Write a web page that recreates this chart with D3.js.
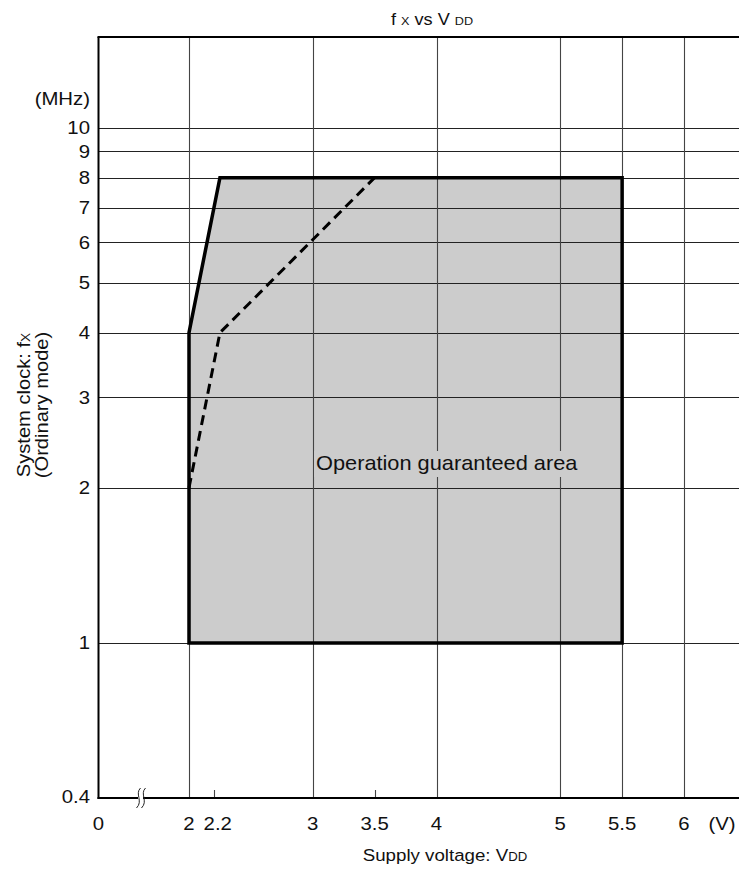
<!DOCTYPE html>
<html><head><meta charset="utf-8">
<script src="https://cdn.jsdelivr.net/npm/d3@7"></script>
<style>
html,body{margin:0;padding:0;background:#fff;}
svg{display:block;}
text{font-family:"Liberation Sans",Arial,Helvetica,sans-serif;fill:#111;}
</style></head>
<body>
<svg id="c" width="739" height="880"></svg>
<script>
// ---- data ----
const xTickValues = [2, 2.2, 3, 3.5, 4, 5, 5.5, 6];
const xTickLabels = ["2", "2.2", "3", "3.5", "4", "5", "5.5", "6"];
const xGridValues = [2, 3, 4, 5, 5.5, 6];
const xShortTickValues = [2.2, 3.5];
const yTickValues = [1, 2, 3, 4, 5, 6, 7, 8, 9, 10];
const yBreakLabel = "0.4";
const xBreakLabel = "0";
// operation guaranteed area (V, MHz)
const areaV = [2, 2, 2.25, 5.5, 5.5];
const areaF = [1, 4, 8, 8, 1];
// dashed boundary (V, MHz)
const dashV = [2, 2.25, 3.5];
const dashF = [2, 4, 8];

const svg = d3.select("#c");
const pL = 98.5, pR = 745, pT = 37, pB = 798;
const x = d3.scaleLinear().domain([2, 6]).range([189, 684]);
const y = d3.scaleLog().domain([0.5, 15]).range([pB, pT]);
const SX = 1.1;

function txt(g, px, py, s, anchor, size) {
  return g.append("text")
    .attr("transform", `translate(${px},${py}) scale(${SX},1)`)
    .attr("text-anchor", anchor || "middle")
    .attr("font-size", size || 18.5)
    .text(s);
}

// area fill
const areaPts = areaV.map((v, i) => [x(v), y(areaF[i])]);
svg.append("path")
  .attr("d", d3.line()(areaPts) + "Z")
  .attr("fill", "#cccccc").attr("stroke", "none");

// grid
const grid = svg.append("g");
grid.selectAll("line.h").data(yTickValues).join("line")
  .attr("x1", pL).attr("x2", pR)
  .attr("y1", d => Math.round(y(d)) + 0.5).attr("y2", d => Math.round(y(d)) + 0.5)
  .attr("stroke", "#222").attr("stroke-width", 1.1);
grid.selectAll("line.v").data(xGridValues).join("line")
  .attr("y1", pT).attr("y2", pB)
  .attr("x1", d => Math.round(x(d)) + 0.5).attr("x2", d => Math.round(x(d)) + 0.5)
  .attr("stroke", "#444").attr("stroke-width", 1.1);
grid.selectAll("line.s").data(xShortTickValues).join("line")
  .attr("y1", pB - 8).attr("y2", pB)
  .attr("x1", d => Math.round(x(d)) + 0.5).attr("x2", d => Math.round(x(d)) + 0.5)
  .attr("stroke", "#444").attr("stroke-width", 1.1);

// area label with background
const lbl = svg.append("g");
const lx = 316, ly = 470;
lbl.append("rect").attr("x", lx - 2).attr("y", ly - 19).attr("width", 272).attr("height", 26)
  .attr("fill", "#cccccc");
txt(lbl, lx, ly, "Operation guaranteed area", "start", 19.8);

// area outline
svg.append("path")
  .attr("d", d3.line()(areaPts) + "Z")
  .attr("fill", "none").attr("stroke", "#000").attr("stroke-width", 3.5)
  .attr("stroke-linejoin", "miter");

// dashed line
svg.append("path")
  .attr("d", d3.line()(dashV.map((v, i) => [x(v), y(dashF[i])])))
  .attr("fill", "none").attr("stroke", "#000").attr("stroke-width", 3)
  .attr("stroke-dasharray", "10,6");

// frame
svg.append("line").attr("x1", pL).attr("x2", pL).attr("y1", pT).attr("y2", pB + 1)
  .attr("stroke", "#000").attr("stroke-width", 2);
svg.append("line").attr("x1", pL - 1).attr("x2", pR).attr("y1", pB).attr("y2", pB)
  .attr("stroke", "#000").attr("stroke-width", 2);
svg.append("line").attr("x1", pL - 1).attr("x2", pR).attr("y1", pT).attr("y2", pT)
  .attr("stroke", "#000").attr("stroke-width", 2);

// axis break mark
const bx = 141;
svg.append("rect").attr("x", bx - 3).attr("y", pB - 2).attr("width", 5).attr("height", 4).attr("fill", "#fff");
[-2.5, 2.5].forEach(o => {
  svg.append("path")
    .attr("d", `M${bx + o + 2},${pB - 10} C${bx + o - 4},${pB - 4} ${bx + o + 5},${pB + 3} ${bx + o - 2},${pB + 10}`)
    .attr("fill", "none").attr("stroke", "#222").attr("stroke-width", 1);
});

// y tick labels
const yl = svg.append("g");
yTickValues.forEach(v => txt(yl, 90, y(v) + 6.5, String(v), "end"));
txt(yl, 90, pB + 5, yBreakLabel, "end");
txt(yl, 90, 105, "(MHz)", "end");

// x tick labels
const xl = svg.append("g");
xTickValues.forEach((v, i) => {
  const px = v === 2.2 ? x(v) + 4 : x(v);
  txt(xl, px, 830, xTickLabels[i], "middle");
});
txt(xl, pL, 830, xBreakLabel, "middle");
txt(xl, 722, 830, "(V)", "middle");

// x axis title
const xt = svg.append("text").attr("transform", `translate(445,861) scale(${SX},1)`)
  .attr("text-anchor", "middle").attr("font-size", 17);
xt.append("tspan").text("Supply voltage: V");
xt.append("tspan").attr("font-size", 12).text("DD");

// y axis title
const yt = svg.append("g").attr("transform", "translate(0,405) rotate(-90)");
const y1 = yt.append("text").attr("transform", `translate(0,30) scale(${SX},1)`)
  .attr("text-anchor", "middle").attr("font-size", 18.3);
y1.append("tspan").text("System clock: f");
y1.append("tspan").attr("font-size", 12.5).text("X");
yt.append("text").attr("transform", `translate(0,48) scale(${SX},1)`)
  .attr("text-anchor", "middle").attr("font-size", 18.3).text("(Ordinary mode)");

// title
const tt = svg.append("text").attr("transform", `translate(432,25) scale(${SX},1)`)
  .attr("text-anchor", "middle").attr("font-size", 16.5);
tt.append("tspan").text("f ");
tt.append("tspan").attr("font-size", 11.5).text("X");
tt.append("tspan").text(" vs V ");
tt.append("tspan").attr("font-size", 11.5).text("DD");
</script>
</body></html>
